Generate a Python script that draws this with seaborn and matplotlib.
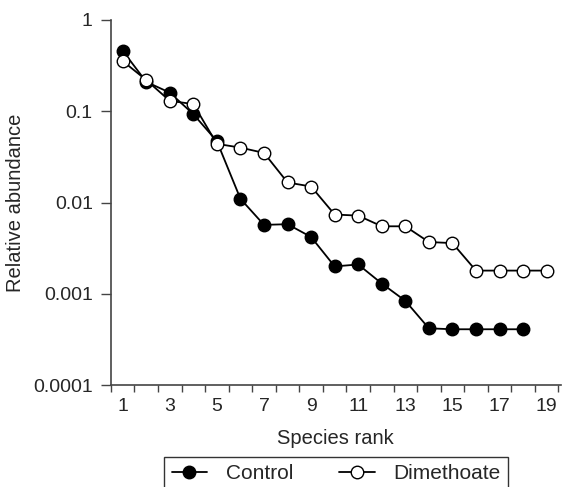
"""
Rank-abundance curves, control vs dimethoate
"""

import matplotlib.pyplot as plt
import seaborn as sns
import pandas as pd
import numpy as np

# Data
rank_control = list(range(1, 19))
abund_control = [0.46, 0.21, 0.16, 0.093, 0.047, 0.011, 0.0057, 0.0058, 0.0042,
                 0.0020, 0.0021, 0.0013, 0.00084, 0.00042, 0.00041, 0.00041,
                 0.00041, 0.00041]

rank_dimeth = list(range(1, 20))
abund_dimeth = [0.355, 0.22, 0.13, 0.12, 0.044, 0.040, 0.035, 0.0166, 0.015,
                0.0074, 0.0072, 0.0055, 0.0055, 0.0037, 0.0036, 0.0018,
                0.0018, 0.0018, 0.0018]

x_labels = [1, 3, 5, 7, 9, 11, 13, 15, 17, 19]
y_ticks = [0.0001, 0.001, 0.01, 0.1, 1]
y_labels = ['0.0001', '0.001', '0.01', '0.1', '1']

sns.set_style('ticks')
plt.rcParams['font.family'] = ['Liberation Sans', 'DejaVu Sans']
font = {'fontsize': 14}
axis_col = '#444444'

fig = plt.figure(figsize=(5.63, 4.87), dpi=100)
ax = fig.add_axes([0.197, 0.209, 0.799, 0.75])

df_c = pd.DataFrame({'rank': rank_control, 'abund': abund_control})
df_d = pd.DataFrame({'rank': rank_dimeth, 'abund': abund_dimeth})

sns.lineplot(x='rank', y='abund', data=df_c, ax=ax, color='black', lw=1.3,
             marker='o', markersize=9, markerfacecolor='black',
             markeredgecolor='black', markeredgewidth=1, label='Control')
sns.lineplot(x='rank', y='abund', data=df_d, ax=ax, color='black', lw=1.3,
             marker='o', markersize=9, markerfacecolor='white',
             markeredgecolor='black', markeredgewidth=1, label='Dimethoate')

# Axes
ax.set_yscale('log')
ax.set_ylim(0.0001, 1)
ax.set_yticks(y_ticks)
ax.set_yticklabels(y_labels, **font)
ax.yaxis.set_minor_locator(plt.NullLocator())
ax.tick_params(axis='y', which='major', length=7, width=1, color=axis_col, pad=6)

ax.set_xlim(0.5, 19.6)
ax.set_xticks(x_labels)
ax.set_xticklabels([str(v) for v in x_labels], **font)
ax.set_xticks(np.arange(0.5, 20, 1), minor=True)
ax.tick_params(axis='x', which='major', length=0, pad=9)
ax.tick_params(axis='x', which='minor', length=5, width=1, color=axis_col)

ax.set_xlabel('Species rank', labelpad=10, fontsize=14.5)
ax.set_ylabel('Relative abundance', labelpad=6, fontsize=14.5)

sns.despine(ax=ax)
for side in ['left', 'bottom']:
    ax.spines[side].set_color(axis_col)
    ax.spines[side].set_linewidth(1.2)

# Legend below the axes
ax.legend_.remove()
handles, labels = ax.get_legend_handles_labels()
leg = fig.legend(handles, labels, loc='upper center', bbox_to_anchor=(0.597, 0.0616),
                 ncol=2, frameon=True, fancybox=False, edgecolor='black',
                 fontsize=15, handlelength=1.7, columnspacing=2.2,
                 borderpad=0.35, handletextpad=0.9, borderaxespad=0)
leg.get_frame().set_linewidth(1.0)

fig.savefig('out.png', dpi=100)
